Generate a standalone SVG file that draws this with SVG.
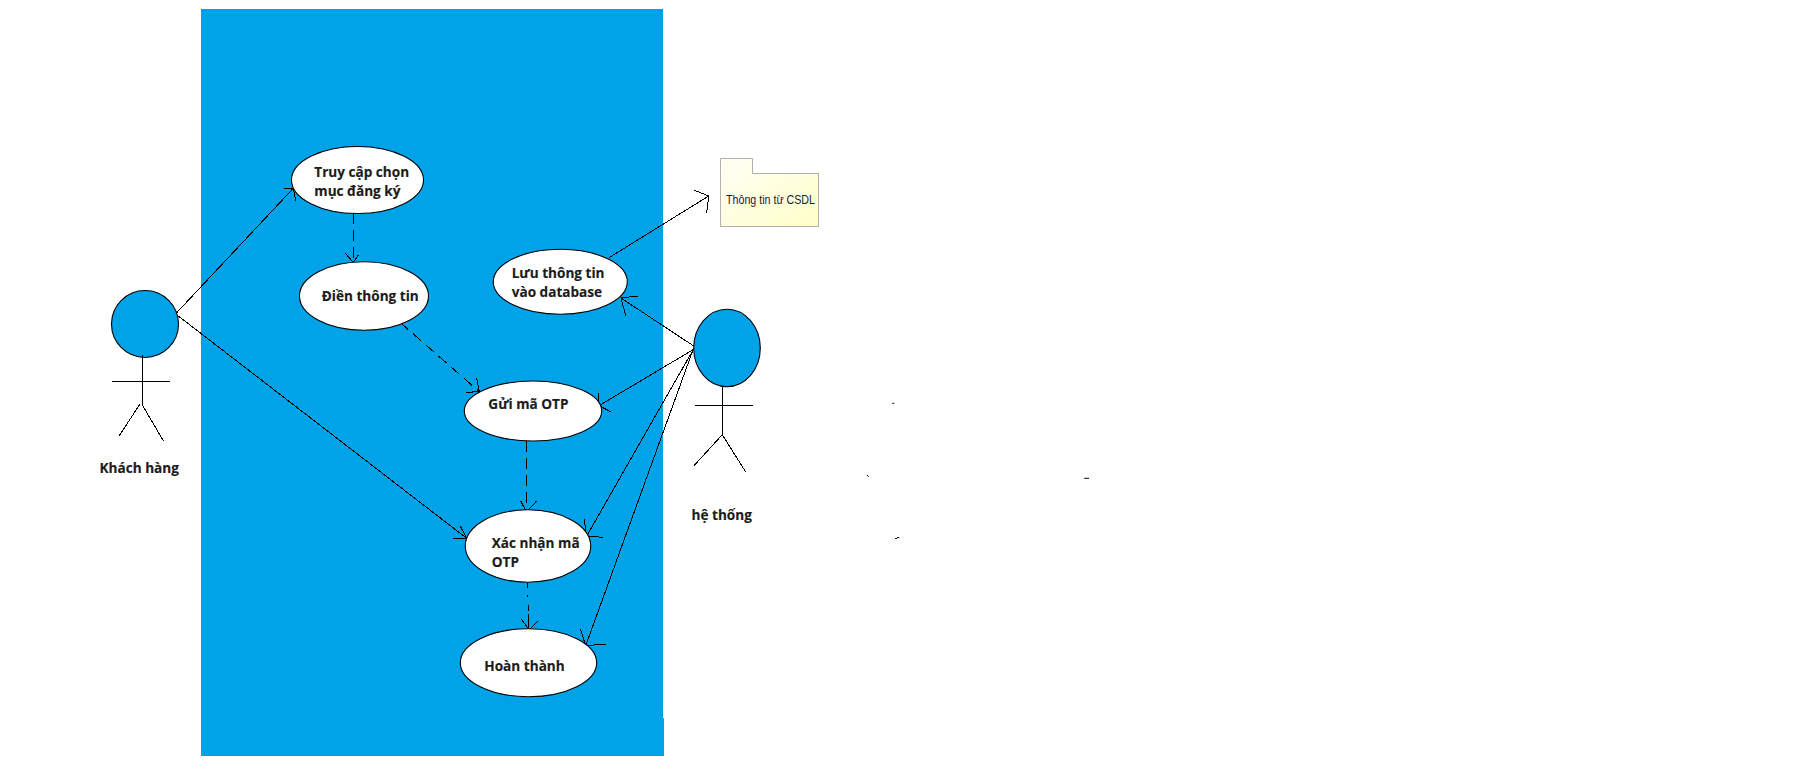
<svg xmlns="http://www.w3.org/2000/svg" width="1795" height="782" viewBox="0 0 1795 782">
<style>
.u{fill:#fff;stroke:#000;stroke-width:1.1}
.a{fill:#00a2e8;stroke:#000;stroke-width:1.1}
.l{fill:none;stroke:#000;stroke-width:1;shape-rendering:crispEdges}
.d{fill:none;stroke:#000;stroke-width:1;stroke-dasharray:11 6;shape-rendering:crispEdges}
.t{font-family:"Open Sans","Noto Sans",sans-serif;font-weight:700;font-size:13.6px;fill:#1c1c1c;stroke:#1c1c1c;stroke-width:.15}
.p{font-family:"Liberation Sans",Arial,sans-serif;font-size:13px;fill:#1a1a3a}
</style>
<defs>
<linearGradient id="pk" x1="0" y1="0" x2="1" y2="1"><stop offset="0" stop-color="#fffff6"/><stop offset="1" stop-color="#ffffc8"/></linearGradient>
</defs>
<rect width="1795" height="782" fill="#fff"/>
<path id="boundary" d="M201 9H663V718H664V756H201Z" fill="#00a2e8"/>
<g id="connectors">
<path class="l" d="M176.7 312.7L293.3 188.3M284 188.7L293.3 188.3L295.7 200.7"/>
<path class="l" d="M178.3 316L466.7 538.3M460 525.7L466.7 538.3L453.3 538.3"/>
<path class="d" d="M353.3 213.3V262.3"/>
<path class="l" d="M345.3 253.3L353.3 262.3L358.7 254.7"/>
<path class="d" d="M400 322.3L479.3 391.7"/>
<path class="l" d="M466 392.3L479.3 391.7L476.7 378.3"/>
<path class="d" d="M526.3 441V511.7"/>
<path class="l" d="M520.7 501L526.3 511.7L536.7 501"/>
<path class="l" d="M527.3 583V588M527.8 595V597M528 605V611M528.5 614V630"/>
<path class="l" d="M521.3 619.3L529.3 630L537.7 621.3"/>
<path class="l" d="M609 257.7L708.7 196M694.3 190.3L708.7 196L706.7 212.7"/>
<path class="l" d="M693.7 346L621 298M638 296L621 298L625.7 315.7"/>
<path class="l" d="M693.7 349.3L599 405.7M598.7 393.3L599 405.7L610.7 411.7"/>
<path class="l" d="M692.7 350.7L586.7 536M584 519L586.7 536L603 537.3"/>
<path class="l" d="M692.7 350.7L585.7 645.7M580.3 629L585.7 645.7L606 644"/>
</g>
<g id="actor-khach-hang">
<circle class="a" cx="145" cy="324" r="33.5"/>
<path class="l" d="M142.3 355V405M112 382L170 381.5M140 404L119.3 435.7M142.3 405L163.3 440.7"/>
<text class="t" x="99.5" y="473">Khách hàng</text>
</g>
<g id="actor-he-thong">
<ellipse class="a" cx="727" cy="348" rx="33.3" ry="38.7"/>
<path class="l" d="M722.3 386.7V434.7M695 405.3H753M722.3 434.7L694 465.7M722.3 434.7L745.7 472"/>
<text class="t" x="691.5" y="520">hệ thống</text>
</g>
<g id="uc-truy-cap">
<ellipse class="u" cx="357.5" cy="180" rx="66" ry="33.5"/>
<text class="t" x="314.3" y="177.3">Truy cập chọn</text>
<text class="t" x="314.3" y="196">mục đăng ký</text>
</g>
<g id="uc-dien-thong-tin">
<ellipse class="u" cx="364" cy="296" rx="64.5" ry="34.3"/>
<text class="t" x="321.7" y="300.7">Điền thông tin</text>
</g>
<g id="uc-luu-thong-tin">
<ellipse class="u" cx="560.3" cy="281.8" rx="67" ry="32.5"/>
<text class="t" x="511.7" y="278.3">Lưu thông tin</text>
<text class="t" x="511.7" y="297.3">vào database</text>
</g>
<g id="uc-gui-ma">
<ellipse class="u" cx="533" cy="411" rx="68.7" ry="30"/>
<text class="t" x="488.3" y="409.3">Gửi mã OTP</text>
</g>
<g id="uc-xac-nhan">
<ellipse class="u" cx="528" cy="546" rx="62.7" ry="36.2"/>
<text class="t" x="491.7" y="548.3">Xác nhận mã</text>
<text class="t" x="491.7" y="567.3">OTP</text>
</g>
<g id="uc-hoan-thanh">
<ellipse class="u" cx="528.5" cy="662.7" rx="68.2" ry="34"/>
<text class="t" x="484.3" y="671">Hoàn thành</text>
</g>
<g id="package-csdl">
<path d="M720.5 158.5H752.5V173.5H818.5V226.5H720.5Z" fill="url(#pk)" stroke="#b0b0b0" stroke-width="1"/>
<text class="p" x="726" y="204" textLength="89" lengthAdjust="spacingAndGlyphs">Thông tin từ CSDL</text>
</g>
<path d="M892.3 403.3H894.3M867 475L868.5 476.7M1084.3 478.3H1089M895 538.6H897M897 537.6H899.3" fill="none" stroke="#000"/>
</svg>
